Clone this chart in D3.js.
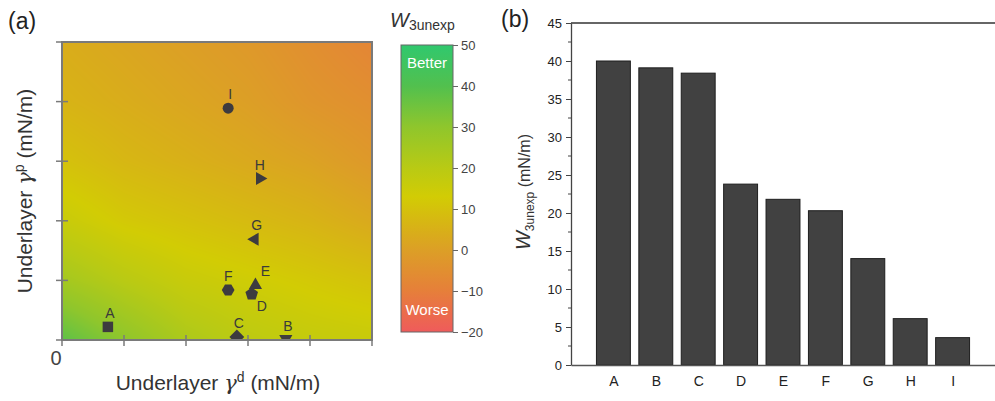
<!DOCTYPE html>
<html>
  <head>
    <title>W3unexp</title>
    <script src="https://cdn.jsdelivr.net/npm/d3@7"></script>
    <style>
      body { margin: 0; background: #fff; }
      svg { display: block; font-family: "Liberation Sans", Arial, sans-serif; }
    </style>
  </head>
  <body>
    <script>
    // ---- data ----
    // (a) W3unexp field, rows from gamma_p = 0 (bottom) to 50 (top)
    var fieldTicks = [0, 10, 20, 30, 40, 50];
    var fieldRows = [
      [38, 30, 23, 19, 17, 16],
      [25, 20, 16, 14, 12, 10],
      [16, 12, 10, 8, 6, 3],
      [10, 7, 5, 3, 1, -2],
      [6, 4, 2, 0, -3, -5],
      [4, 2, 0, -2, -5, -8]
    ];
    var colorStops = [-20, -10, 0, 5, 13, 20, 30, 40, 50];
    var colorValues = ["#ef5b5b", "#e67f3a", "#dc9f26", "#d8b018", "#d2cc04", "#b9ca14", "#8fc62c", "#52c04e", "#30c86e"];
    var colorbarTicks = [50, 40, 30, 20, 10, 0, -10, -20];

    // underlayers
    var names = ["A", "B", "C", "D", "E", "F", "G", "H", "I"];
    var gammaD = [7.4, 36.1, 28.2, 30.6, 31.2, 26.8, 31.1, 31.9, 26.8];
    var gammaP = [2.2, 0.2, 0.5, 7.7, 9.2, 8.4, 16.9, 27.1, 38.9];
    var shapes = ["square", "triDown", "diamond", "pentagon", "triUp", "hexagon", "triLeft", "triRight", "circle"];

    // (b) bar values
    var w3unexp = [40.0, 39.1, 38.4, 23.8, 21.8, 20.3, 14.0, 6.1, 3.6];
    var barTicks = [0, 5, 10, 15, 20, 25, 30, 35, 40, 45];

    // label offsets (px) for the markers in (a)
    var labelDx = [2, 2, 2, 10, 10, 0, 2, 0, 2];
    var labelDy = [-9, -8, -9, 17, -9, -9, -9, -8, -9];

    var svg = d3.select("body").append("svg")
      .attr("width", 995).attr("height", 401);
    svg.append("rect").attr("width", 995).attr("height", 401).attr("fill", "#fff");

    // ---------- panel (a) ----------
    var ax = { left: 62, right: 372, top: 42, bottom: 340 };
    var x = d3.scaleLinear().domain([0, 50]).range([ax.left, ax.right]);
    var y = d3.scaleLinear().domain([0, 50]).range([ax.bottom, ax.top]);
    var color = d3.scaleLinear().domain(colorStops).range(colorValues).clamp(true);

    // heat map drawn on a canvas, shaded between the grid values
    var cw = ax.right - ax.left, ch = ax.bottom - ax.top;
    var canvas = document.createElement("canvas");
    canvas.width = cw; canvas.height = ch;
    var ctx = canvas.getContext("2d");
    var img = ctx.createImageData(cw, ch);
    var gi = d3.scaleLinear().domain([fieldTicks[0], fieldTicks[fieldTicks.length - 1]]).range([0, fieldTicks.length - 1]);
    for (var py = 0; py < ch; py++) {
      var gy = gi(y.invert(ax.top + py + 0.5));
      var j0 = Math.min(Math.floor(gy), fieldTicks.length - 2), fy = gy - j0;
      for (var px = 0; px < cw; px++) {
        var gx = gi(x.invert(ax.left + px + 0.5));
        var i0 = Math.min(Math.floor(gx), fieldTicks.length - 2), fx = gx - i0;
        var v = (fieldRows[j0][i0] * (1 - fx) + fieldRows[j0][i0 + 1] * fx) * (1 - fy) +
                (fieldRows[j0 + 1][i0] * (1 - fx) + fieldRows[j0 + 1][i0 + 1] * fx) * fy;
        var c = d3.rgb(color(v));
        var k = (py * cw + px) * 4;
        img.data[k] = c.r; img.data[k + 1] = c.g; img.data[k + 2] = c.b; img.data[k + 3] = 255;
      }
    }
    ctx.putImageData(img, 0, 0);
    svg.append("image")
      .attr("x", ax.left).attr("y", ax.top)
      .attr("width", cw).attr("height", ch)
      .attr("preserveAspectRatio", "none")
      .attr("href", canvas.toDataURL());

    // frame + ticks
    var frameCol = "#7a7a7a";
    svg.append("path")
      .attr("d", "M" + ax.left + "," + ax.bottom + "V" + ax.top + "H" + ax.right + "V" + ax.bottom + "Z")
      .attr("fill", "none").attr("stroke", frameCol).attr("stroke-width", 2);
    svg.append("g").selectAll("line").data(x.ticks(5)).join("line")
      .attr("x1", function (d) { return x(d); }).attr("x2", function (d) { return x(d); })
      .attr("y1", ax.bottom - 5).attr("y2", ax.bottom + 6)
      .attr("stroke", frameCol).attr("stroke-width", 1.5);
    svg.append("g").selectAll("line").data(y.ticks(5)).join("line")
      .attr("y1", function (d) { return y(d); }).attr("y2", function (d) { return y(d); })
      .attr("x1", ax.left - 6).attr("x2", ax.left + 6)
      .attr("stroke", frameCol).attr("stroke-width", 1.5);
    svg.append("text").attr("x", 56).attr("y", 365)
      .attr("text-anchor", "middle").attr("font-size", 20).attr("fill", "#444").text("0");

    // axis titles
    var xt = svg.append("text").attr("x", 218).attr("y", 390)
      .attr("text-anchor", "middle").attr("font-size", 21).attr("fill", "#333");
    xt.append("tspan").text("Underlayer ");
    xt.append("tspan").attr("font-family", "DejaVu Serif").attr("font-style", "italic").text("γ");
    xt.append("tspan").attr("font-size", 14).attr("dy", -8).text("d");
    xt.append("tspan").attr("dy", 8).text(" (mN/m)");

    var yt = svg.append("text").attr("transform", "translate(32,191) rotate(-90)")
      .attr("text-anchor", "middle").attr("font-size", 21).attr("fill", "#333");
    yt.append("tspan").text("Underlayer ");
    yt.append("tspan").attr("font-family", "DejaVu Serif").attr("font-style", "italic").text("γ");
    yt.append("tspan").attr("font-size", 14).attr("dy", -8).text("p");
    yt.append("tspan").attr("dy", 8).text(" (mN/m)");

    // markers
    function polygon(n, rot) {
      return {
        draw: function (context, size) {
          var r = Math.sqrt(size / (0.5 * n * Math.sin(2 * Math.PI / n)));
          for (var i = 0; i < n; i++) {
            var a = rot + 2 * Math.PI * i / n;
            var px = r * Math.sin(a), py = -r * Math.cos(a);
            if (i === 0) context.moveTo(px, py); else context.lineTo(px, py);
          }
          context.closePath();
        }
      };
    }
    var shapeDefs = {
      circle: [d3.symbolCircle, 0, 95],
      square: [d3.symbolSquare, 0, 110],
      diamond: [polygon(4, 0), 0, 110],
      triUp: [d3.symbolTriangle, 0, 75],
      triDown: [d3.symbolTriangle, 180, 75],
      triLeft: [d3.symbolTriangle, -90, 75],
      triRight: [d3.symbolTriangle, 90, 75],
      pentagon: [polygon(5, 0), 0, 105],
      hexagon: [polygon(6, Math.PI / 6), 0, 105]
    };
    svg.append("clipPath").attr("id", "plotClip").append("rect")
      .attr("x", ax.left).attr("y", ax.top).attr("width", cw).attr("height", ch - 1);
    var mk = svg.append("g").attr("clip-path", "url(#plotClip)");
    names.forEach(function (n, i) {
      var s = shapeDefs[shapes[i]];
      mk.append("path")
        .attr("d", d3.symbol().type(s[0]).size(s[2])())
        .attr("transform", "translate(" + x(gammaD[i]) + "," + y(gammaP[i]) + ") rotate(" + s[1] + ")")
        .attr("fill", "#3d3b3f");
    });
    svg.append("g").selectAll("text").data(names).join("text")
      .attr("x", function (d, i) { return x(gammaD[i]) + labelDx[i]; })
      .attr("y", function (d, i) { return y(gammaP[i]) + labelDy[i]; })
      .attr("text-anchor", "middle").attr("font-size", 14).attr("fill", "#3a3a3a")
      .text(function (d) { return d; });

    svg.append("text").attr("x", 8).attr("y", 29).attr("font-size", 23).attr("fill", "#222").text("(a)");

    // colorbar
    var cb = { x: 401, w: 52 };
    var cy = d3.scaleLinear().domain([-20, 50]).range([332, 45]);
    var grad = svg.append("defs").append("linearGradient").attr("id", "cbGrad")
      .attr("x1", 0).attr("y1", 1).attr("x2", 0).attr("y2", 0);
    colorStops.forEach(function (s, i) {
      grad.append("stop").attr("offset", (s + 20) / 70).attr("stop-color", colorValues[i]);
    });
    svg.append("rect").attr("x", cb.x).attr("y", cy(50)).attr("width", cb.w).attr("height", cy(-20) - cy(50))
      .attr("fill", "url(#cbGrad)").attr("stroke", "#666").attr("stroke-width", 1);
    var cbg = svg.append("g").attr("transform", "translate(" + (cb.x + cb.w) + ",0)")
      .call(d3.axisRight(cy).tickValues(colorbarTicks).tickSize(5).tickPadding(3).tickSizeOuter(0));
    cbg.select(".domain").remove();
    cbg.selectAll("line").attr("stroke", "#666");
    cbg.selectAll("text").attr("font-size", 13).attr("fill", "#444").attr("font-family", "Liberation Sans, Arial, sans-serif");
    svg.append("text").attr("x", 427).attr("y", 68).attr("text-anchor", "middle")
      .attr("font-size", 15).attr("fill", "#fff").text("Better");
    svg.append("text").attr("x", 427).attr("y", 315).attr("text-anchor", "middle")
      .attr("font-size", 15).attr("fill", "#fff").text("Worse");
    var ct = svg.append("text").attr("x", 390).attr("y", 27).attr("fill", "#333");
    ct.append("tspan").attr("font-size", 20).attr("font-style", "italic").text("W");
    ct.append("tspan").attr("font-size", 14).attr("dy", 3).text("3unexp");

    // ---------- panel (b) ----------
    var bx = { left: 571, right: 995, top: 23, bottom: 365 };
    var xb = d3.scalePoint().domain(names).range([bx.left, bx.right]).padding(1);
    var yb = d3.scaleLinear().domain([0, 45]).range([bx.bottom, bx.top]);
    var bw = xb.step() * 0.8;

    svg.append("g").selectAll("rect").data(w3unexp).join("rect")
      .attr("x", function (d, i) { return xb(names[i]) - bw / 2; })
      .attr("y", function (d) { return yb(d); })
      .attr("width", bw)
      .attr("height", function (d) { return yb(0) - yb(d); })
      .attr("fill", "#414141").attr("stroke", "#1e1e1e").attr("stroke-width", 1);

    var minor = d3.range(2.5, 45, 5);
    svg.append("g").selectAll("line").data(minor).join("line")
      .attr("x1", bx.left - 3).attr("x2", bx.left)
      .attr("y1", function (d) { return yb(d); }).attr("y2", function (d) { return yb(d); })
      .attr("stroke", "#444");
    var yAx = svg.append("g").attr("transform", "translate(" + bx.left + ",0)")
      .call(d3.axisLeft(yb).tickValues(barTicks).tickSize(5).tickPadding(4).tickSizeOuter(0));
    yAx.selectAll("line").attr("stroke", "#444");
    yAx.select(".domain").attr("stroke", "#444").attr("stroke-width", 1.3);
    yAx.selectAll("text").attr("font-size", 13).attr("fill", "#222").attr("font-family", "Liberation Sans, Arial, sans-serif");

    var xAx = svg.append("g").attr("transform", "translate(0," + bx.bottom + ")")
      .call(d3.axisBottom(xb).tickSize(0).tickPadding(11));
    xAx.select(".domain").attr("stroke", "#555").attr("stroke-width", 1.5);
    xAx.selectAll("text").attr("font-size", 14).attr("fill", "#222").attr("font-family", "Liberation Sans, Arial, sans-serif");
    svg.append("line").attr("x1", bx.left).attr("x2", bx.right).attr("y1", bx.top).attr("y2", bx.top)
      .attr("stroke", "#333").attr("stroke-width", 1.5);

    var bt = svg.append("text").attr("transform", "translate(530,192) rotate(-90)")
      .attr("text-anchor", "middle").attr("fill", "#333");
    bt.append("tspan").attr("font-size", 20).attr("font-style", "italic").text("W");
    bt.append("tspan").attr("font-size", 12).attr("dy", 4).text("3unexp");
    bt.append("tspan").attr("font-size", 16).attr("dy", -4).text(" (mN/m)");

    svg.append("text").attr("x", 501).attr("y", 27).attr("font-size", 23).attr("fill", "#222").text("(b)");
    </script>
  </body>
</html>
